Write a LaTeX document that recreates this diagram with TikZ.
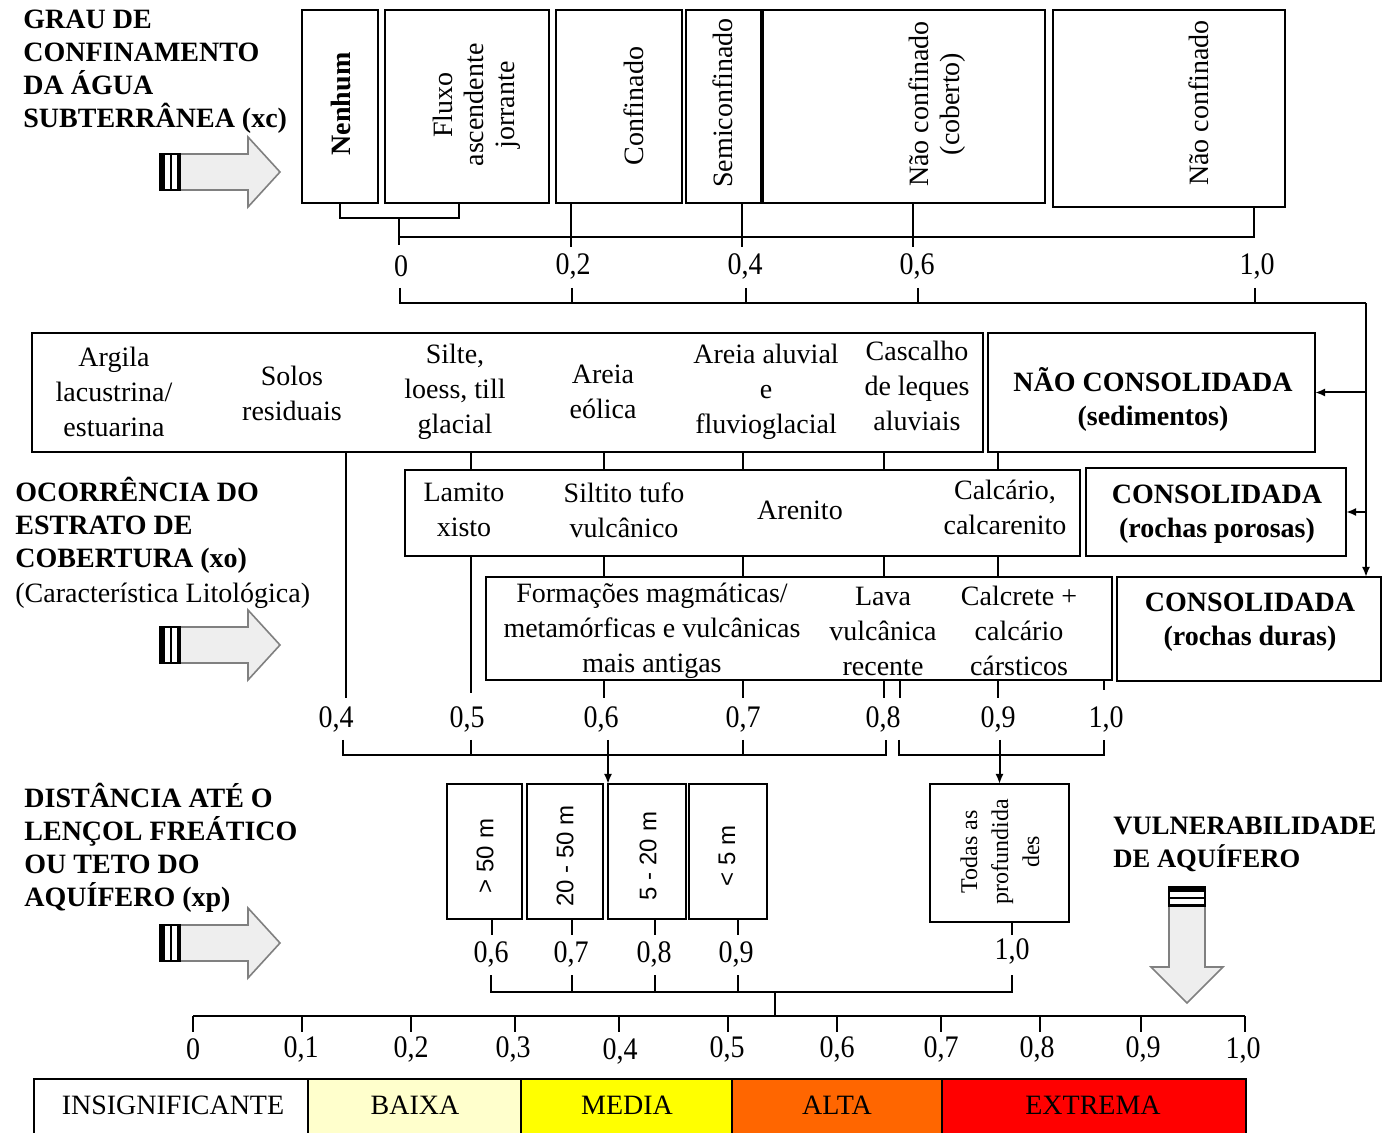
\documentclass[tikz,border=0pt]{standalone}
\usepackage{fontspec}
\setmainfont{Liberation Serif}
\newfontfamily\sansf{Liberation Sans}
\usetikzlibrary{arrows.meta,calc}
\definecolor{cbaixa}{HTML}{FFFFCC}
\definecolor{cmedia}{HTML}{FFFF00}
\definecolor{calta}{HTML}{FF6600}
\definecolor{cextrema}{HTML}{FF0000}
\definecolor{arrfill}{HTML}{EEEEEE}
\definecolor{arredge}{HTML}{808080}
\newcommand\bx[6][]{\node[box,#1,minimum width={(#5-#3)*0.5pt},minimum height={(#6-#4)*0.5pt}] (#2) at ({(#3+#5)/2},{(#4+#6)/2}) {};}
\tikzset{
  rblock/.pic={
    \fill[white] (0,-18) rectangle (21,18);
    \fill[black] (0,-18) rectangle (5,18);
    \fill[black] (10,-18) rectangle (12,18);
    \fill[black] (17,-18) rectangle (21,18);
    \draw[line width=0.8pt] (0,-18) rectangle (21,18);
    \draw[draw=arredge,fill=arrfill,line width=0.8pt] (21,-18) -- (88,-18) -- (88,-35) -- (120,0) -- (88,35) -- (88,18) -- (21,18);
  },
  dblock/.pic={
    \fill[white] (-18,0) rectangle (18,20);
    \fill[black] (-18,0) rectangle (18,5);
    \fill[black] (-18,10) rectangle (18,12);
    \fill[black] (-18,17) rectangle (18,20);
    \draw[line width=0.8pt] (-18,0) rectangle (18,20);
    \draw[draw=arredge,fill=arrfill,line width=0.8pt] (-18,20) -- (-18,80) -- (-36,80) -- (0,116) -- (36,80) -- (18,80) -- (18,20);
  }
}
\begin{document}
\begin{tikzpicture}[x=0.5pt,y=-0.5pt,
  box/.style={draw,line width=1pt,inner sep=0pt,outer sep=0pt},
  lbl/.style={font=\fontsize{14}{17.5}\selectfont,align=center,inner sep=0pt},
  rlbl/.style={font=\fontsize{14}{15.5}\selectfont,align=center,inner sep=0pt,rotate=90},
  slbl/.style={font=\sansf\fontsize{12}{14}\selectfont,inner sep=0pt,rotate=90},
  blbl/.style={font=\bfseries\fontsize{14}{17}\selectfont,align=center,inner sep=0pt},
  ttl/.style={font=\bfseries\fontsize{14}{16.5}\selectfont,align=left,anchor=north west,inner sep=0pt},
  num/.style={font=\fontsize{14}{16}\selectfont,inner sep=0pt,yscale=1.12},
  conn/.style={line width=1pt},
  arr/.style={line width=1pt,-{Latex[length=5pt,width=4pt]}}]
\useasboundingbox (0,0) rectangle (1388,1133);

% ---------- titles ----------
\node[ttl] (T1) at (23,10) {GRAU DE\\CONFINAMENTO\\DA ÁGUA\\SUBTERRÂNEA (xc)};
\node[ttl] (T2) at (15,477) {OCORRÊNCIA DO\\ESTRATO DE\\COBERTURA (xo)\\[1pt]{\mdseries (Característica Litológica)}};
\node[ttl] (T3) at (24,783) {DISTÂNCIA ATÉ O\\LENÇOL FREÁTICO\\OU TETO DO\\AQUÍFERO (xp)};
\node[ttl,font=\bfseries\fontsize{13.3}{16.5}\selectfont] (T4) at (1113,817) {VULNERABILIDADE\\DE AQUÍFERO};

% ---------- block arrows ----------
\pic (p1) at (160,172) {rblock};
\pic (p2) at (160,645) {rblock};
\pic (p3) at (160,943) {rblock};
\pic (p4) at (1187,887) {dblock};

% ---------- top row ----------
\bx{n1}{302}{10}{378}{203}
\bx{n2}{385}{10}{549}{203}
\bx{n3}{556}{10}{682}{203}
\bx{n4}{686}{10}{762}{203}
\bx{n5}{762}{10}{1045}{203}
\bx{n6}{1053}{10}{1285}{207}
\draw[line width=2pt] (n4.north east) -- (n4.south east);
\node[rlbl,font=\bfseries\fontsize{14}{15.5}\selectfont] (tn1) at (341,104) {Nenhum};
\node[rlbl] (tn2) at (477,105) {Fluxo\\ascendente\\jorrante};
\node[rlbl] (tn3) at (634,106) {Confinado};
\node[rlbl] (tn4) at (723,103) {Semiconfinado};
\node[rlbl] (tn5) at (937,104) {Não confinado\\(coberto)};
\node[rlbl] (tn6) at (1199,103) {Não confinado};

\coordinate (n2c) at ($(n2.south west)!0.45!(n2.south east)$);
\draw[conn] (n1.south) -- ++(0,15) coordinate (nb) -| (n2c);
\coordinate (j0) at ($(nb)!0.5!(nb -| n2c)$);
\draw[conn] (j0) -- ++(0,27);
\draw[conn] (j0 |- 0,237) -- (1254,237) -- (n6.south -| 1254,0);
\foreach \xx/\nn in {571/n3,742/n4,913/n5} \draw[conn] (\nn.south -| \xx,0) -- (\xx,247);
\node[num] (v00) at (401,266) {0};
\node[num] (v02) at (573,266) {0,2};
\node[num] (v04) at (745,266) {0,4};
\node[num] (v06) at (917,266) {0,6};
\node[num] (v10) at (1257,266) {1,0};

\coordinate (rr) at (1366,303);
\draw[conn] (400,288) -- (400,303) -- (rr);
\foreach \xx in {572,746,918,1255} \draw[conn] (\xx,288) -- (\xx,303);

% ---------- middle rows ----------
\bx{A}{32}{333}{983}{452}
\bx{nc}{988}{333}{1315}{452}
\bx{B}{405}{470}{1080}{556}
\bx{cp}{1086}{468}{1346}{556}
\bx{C}{486}{577}{1112}{680}
\bx{cd}{1117}{577}{1381}{681}

\draw[arr] (rr) -- (cd.north -| rr);
\draw[arr] (nc.east -| rr) -- (nc.east);
\draw[arr] (cp.east -| rr) -- (cp.east);

\node[lbl] (a1) at (114,392) {Argila\\lacustrina/\\estuarina};
\node[lbl] (a2) at (292,393) {Solos\\residuais};
\node[lbl] (a3) at (455,392) {Silte,\\loess, till\\glacial};
\node[lbl] (a4) at (603,392) {Areia\\eólica};
\node[lbl] (a5) at (766,392) {Areia aluvial\\e\\fluvioglacial};
\node[lbl] (a6) at (917,386) {Cascalho\\de leques\\aluviais};
\node[blbl] (nct) at (1153,399) {NÃO CONSOLIDADA\\(sedimentos)};

\node[lbl] (b1) at (464,510) {Lamito\\xisto};
\node[lbl] (b2) at (624,510) {Siltito tufo\\vulcânico};
\node[lbl] (b3) at (800,510) {Arenito};
\node[lbl] (b4) at (1005,507) {Calcário,\\calcarenito};
\node[blbl] (cpt) at (1217,514) {CONSOLIDADA\\(rochas porosas)};

\node[lbl] (c1) at (652,631) {Formações magmáticas/\\metamórficas e vulcânicas\\mais antigas};
\node[lbl] (c2) at (883,631) {Lava\\vulcânica\\recente};
\node[lbl] (c3) at (1019,631) {Calcrete +\\calcário\\cársticos};
\node[blbl] (cdt) at (1250,622) {CONSOLIDADA\\(rochas duras)};

\foreach \xx in {471,604,743,884} \draw[conn] (A.south -| \xx,0) -- (B.north -| \xx,0);
\draw[conn] (nc.south -| 998,0) -- (B.north -| 998,0);
\foreach \xx in {604,743,884,998} \draw[conn] (B.south -| \xx,0) -- (C.north -| \xx,0);
\draw[conn] (A.south -| 346,0) -- (346,698);
\draw[conn] (B.south -| 471,0) -- (471,693);
\foreach \xx in {604,743,884,900,998} \draw[conn] (C.south -| \xx,0) -- (\xx,698);
\draw[conn] (C.south -| 1104,0) -- (1104,690);

\node[num] (w04) at (336,719) {0,4};
\node[num] (w05) at (467,719) {0,5};
\node[num] (w06) at (601,719) {0,6};
\node[num] (w07) at (743,719) {0,7};
\node[num] (w08) at (883,719) {0,8};
\node[num] (w09) at (998,719) {0,9};
\node[num] (w10) at (1106,719) {1,0};

% ---------- depth boxes ----------
\bx{d1}{447}{784}{522}{919}
\bx{d2}{527}{784}{603}{919}
\bx{d3}{608}{784}{686}{919}
\bx{d4}{689}{784}{767}{919}
\bx{d5}{930}{784}{1069}{922}
\node[slbl] (e1) at (485,856) {> 50 m};
\node[slbl] (e2) at (565,856) {20 - 50 m};
\node[slbl] (e3) at (648,856) {5 - 20 m};
\node[slbl] (e4) at (727,856) {< 5 m};
\node[rlbl,font=\fontsize{12}{15.5}\selectfont] (e5) at (1000,852) {Todas as\\profundida\\des};

\draw[conn] (343,740) -- (343,755) -- (886,755) -- (886,740);
\foreach \xx in {471,743} \draw[conn] (\xx,740) -- (\xx,755);
\draw[arr] (d3.north west |- 0,740) -- (d3.north west);
\draw[conn] (899,740) -- (899,755) -- (1104,755) -- (1104,740);
\draw[arr] (d5.north |- 0,740) -- (d5.north);

\foreach \xx/\nn in {492/d1,572/d2,655/d3,738/d4,1012/d5} \draw[conn] (\nn.south -| \xx,0) -- (\xx,935);
\node[num] (f06) at (491,954) {0,6};
\node[num] (f07) at (571,954) {0,7};
\node[num] (f08) at (654,954) {0,8};
\node[num] (f09) at (736,954) {0,9};
\node[num] (f10) at (1012,951) {1,0};

\draw[conn] (491,975) -- (491,992) -- (1012,992) -- (1012,975);
\foreach \xx in {572,655,738} \draw[conn] (\xx,975) -- (\xx,992);
\draw[conn] (775,992) -- (775,1016);

% ---------- final scale ----------
\draw[conn] (193,1016) -- (1245,1016);
\foreach \xx in {193,302,411,515,619,728,837,941,1040,1141,1245} \draw[conn] (\xx,1016) -- (\xx,1032);
\node[num] (s0) at (193,1049) {0};
\node[num] (s1) at (301,1049) {0,1};
\node[num] (s2) at (411,1049) {0,2};
\node[num] (s3) at (513,1049) {0,3};
\node[num] (s4) at (620,1051) {0,4};
\node[num] (s5) at (727,1049) {0,5};
\node[num] (s6) at (837,1049) {0,6};
\node[num] (s7) at (941,1049) {0,7};
\node[num] (s8) at (1037,1049) {0,8};
\node[num] (s9) at (1143,1049) {0,9};
\node[num] (s10) at (1243,1050) {1,0};

\bx[fill=white]{g1}{34}{1079}{308}{1140}
\bx[fill=cbaixa]{g2}{308}{1079}{521}{1140}
\bx[fill=cmedia]{g3}{521}{1079}{732}{1140}
\bx[fill=calta]{g4}{732}{1079}{942}{1140}
\bx[fill=cextrema]{g5}{942}{1079}{1246}{1140}
\node[lbl] (h1) at (173,1105) {INSIGNIFICANTE};
\node[lbl] (h2) at (415,1105) {BAIXA};
\node[lbl] (h3) at (627,1105) {MEDIA};
\node[lbl] (h4) at (837,1105) {ALTA};
\node[lbl] (h5) at (1093,1105) {EXTREMA};
\end{tikzpicture}
\end{document}
